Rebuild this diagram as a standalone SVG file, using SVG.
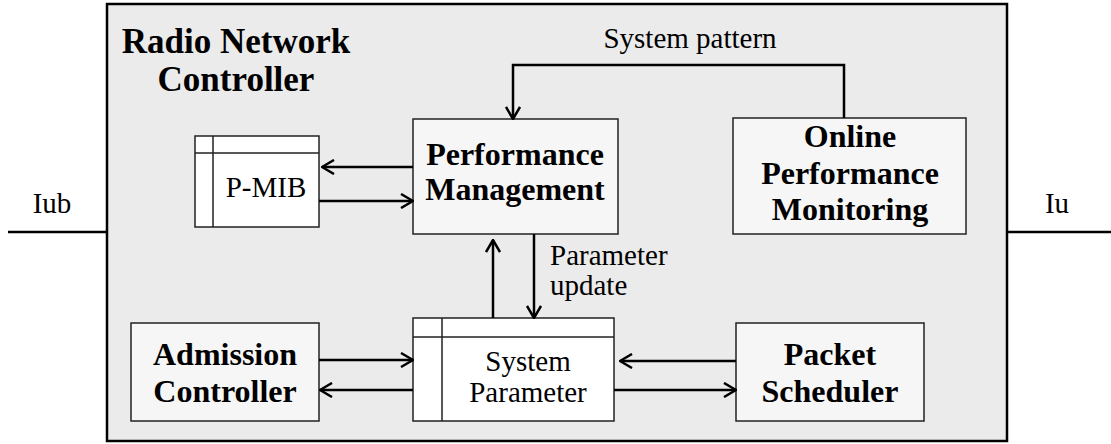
<svg xmlns="http://www.w3.org/2000/svg" width="1111" height="444" viewBox="0 0 1111 444">
  <style>
    .frame { fill: #ebebeb; stroke: #000; stroke-width: 2.5; }
    .node { fill: #f6f6f6; stroke: #222; stroke-width: 1.5; }
    .table { fill: #fff; stroke: #222; stroke-width: 1.5; }
    .grid { stroke: #222; stroke-width: 1.5; fill: none; }
    .bold { font-family: "Liberation Serif", "Times New Roman", serif; font-weight: bold; font-size: 32px; text-anchor: middle; fill: #000; }
    .title { font-size: 35px; }
    .reg { font-family: "Liberation Serif", "Times New Roman", serif; font-size: 29px; text-anchor: middle; fill: #000; }
    .start { text-anchor: start; }
    .wire { stroke: #000; stroke-width: 2.5; fill: none; }
    .link { stroke: #000; stroke-width: 2.5; fill: none; marker-end: url(#chevron); }
  </style>
  <defs>
    <marker id="chevron" viewBox="0 0 14 16" refX="13" refY="8" markerWidth="14" markerHeight="16" markerUnits="userSpaceOnUse" orient="auto">
      <path d="M1,1 L13,8 L1,15" fill="none" stroke="#000" stroke-width="2.5"/>
    </marker>
  </defs>

  <!-- external interfaces -->
  <g id="interfaces">
    <line class="wire" x1="8" y1="232" x2="107" y2="232"/>
    <line class="wire" x1="1007" y1="232" x2="1111" y2="232"/>
    <text class="reg" x="52" y="213">Iub</text>
    <text class="reg" x="1057" y="213">Iu</text>
  </g>

  <!-- RNC enclosure -->
  <g id="rnc">
    <rect class="frame" x="107" y="4" width="900" height="437"/>
    <text class="bold title" x="236" y="53">Radio Network</text>
    <text class="bold title" x="236" y="91">Controller</text>
  </g>

  <g id="p-mib">
    <rect class="table" x="195" y="136" width="124" height="91"/>
    <path class="grid" d="M213,136 V227 M195,153 H319"/>
    <text class="reg" x="266" y="197">P-MIB</text>
  </g>

  <g id="performance-management">
    <rect class="node" x="413" y="119" width="205" height="115"/>
    <text class="bold" x="515" y="165">Performance</text>
    <text class="bold" x="515" y="200">Management</text>
  </g>

  <g id="online-performance-monitoring">
    <rect class="node" x="733" y="118" width="233" height="116"/>
    <text class="bold" x="850" y="147">Online</text>
    <text class="bold" x="850" y="184">Performance</text>
    <text class="bold" x="850" y="220">Monitoring</text>
  </g>

  <g id="admission-controller">
    <rect class="node" x="131" y="323" width="188" height="98"/>
    <text class="bold" x="225" y="365">Admission</text>
    <text class="bold" x="225" y="402">Controller</text>
  </g>

  <g id="system-parameter">
    <rect class="table" x="413" y="318" width="201" height="103"/>
    <path class="grid" d="M442,318 V421 M413,337 H614"/>
    <text class="reg" x="528" y="371">System</text>
    <text class="reg" x="528" y="402">Parameter</text>
  </g>

  <g id="packet-scheduler">
    <rect class="node" x="736" y="323" width="188" height="98"/>
    <text class="bold" x="830" y="365">Packet</text>
    <text class="bold" x="830" y="402">Scheduler</text>
  </g>

  <!-- connectors -->
  <g id="connectors">
    <polyline class="link" points="844,118 844,65 513,65 513,119"/>
    <text class="reg" x="690" y="48">System pattern</text>

    <line class="link" x1="413" y1="167" x2="322" y2="167"/>
    <line class="link" x1="319" y1="201" x2="413" y2="201"/>

    <line class="link" x1="493" y1="318" x2="493" y2="240"/>
    <line class="link" x1="534" y1="234" x2="534" y2="318"/>
    <text class="reg start" x="550" y="265">Parameter</text>
    <text class="reg start" x="550" y="295">update</text>

    <line class="link" x1="319" y1="360" x2="413" y2="360"/>
    <line class="link" x1="413" y1="390" x2="320" y2="390"/>
    <line class="link" x1="736" y1="361" x2="620" y2="361"/>
    <line class="link" x1="614" y1="390" x2="736" y2="390"/>
  </g>
</svg>
